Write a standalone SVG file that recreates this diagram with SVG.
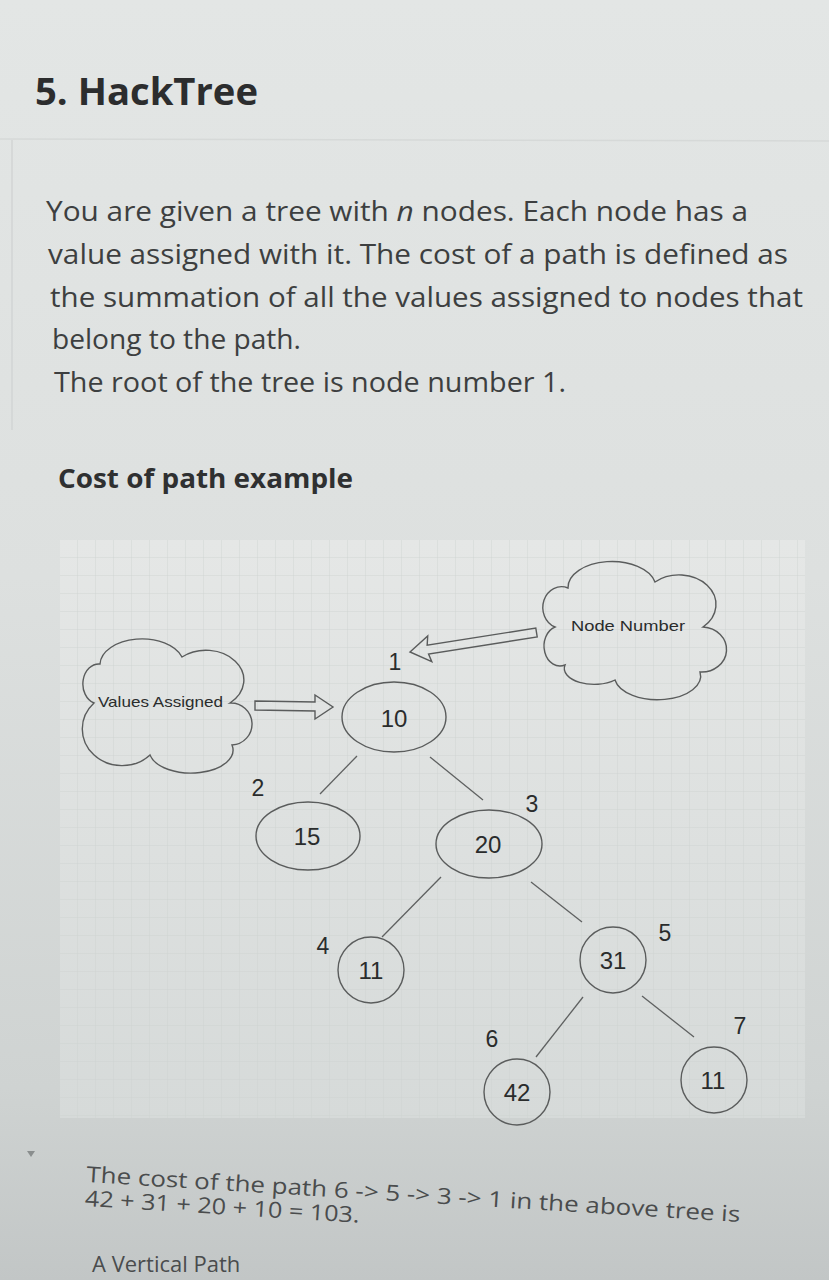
<svg xmlns="http://www.w3.org/2000/svg" width="829" height="1280" viewBox="0 0 829 1280">
<defs>
  <linearGradient id="bg" x1="0" y1="0" x2="0" y2="1">
    <stop offset="0" stop-color="#e3e6e5"/>
    <stop offset="0.45" stop-color="#dde0df"/>
    <stop offset="0.85" stop-color="#cfd3d2"/>
    <stop offset="1" stop-color="#c2c6c6"/>
  </linearGradient>
  <linearGradient id="gridbg" x1="0" y1="0" x2="0" y2="1">
    <stop offset="0" stop-color="#e5e7e6"/>
    <stop offset="1" stop-color="#d6dad9"/>
  </linearGradient>
  <pattern id="grid" width="18" height="18" patternUnits="userSpaceOnUse" x="60" y="540">
    <path d="M18 0 V18 M0 18 H18" fill="none" stroke="#ccd0cf" stroke-width="0.8"/>
  </pattern>
</defs>
<style>
  .title{font-family:"Open Sans","Noto Sans",sans-serif;font-weight:bold;font-size:38px;fill:#2c2d2e}
  .body{font-family:"Open Sans","Noto Sans",sans-serif;font-size:27px;fill:#3d3f40}
  .sub{font-family:"Open Sans","Noto Sans",sans-serif;font-weight:bold;font-size:27px;fill:#2f3031}
  .foot{font-family:"Open Sans","Noto Sans",sans-serif;font-size:22px;fill:#4a4c4d}
  .shape{fill:none;stroke:#5a5c5c;stroke-width:1.4}
  .edge{stroke:#5f6161;stroke-width:1.3;fill:none}
  .val{font-family:"Liberation Sans",Arial,sans-serif;font-size:24px;fill:#2a2c2c;text-anchor:middle}
  .num{font-family:"Liberation Sans",Arial,sans-serif;font-size:23px;fill:#2a2c2c;text-anchor:middle}
  .cl{font-family:"Liberation Sans",Arial,sans-serif;font-size:15px;fill:#2a2c2c}
</style>

<rect x="0" y="0" width="829" height="1280" fill="url(#bg)"/>
<line x1="12" y1="140" x2="12" y2="430" stroke="#d2d5d4" stroke-width="1.5"/>
<line x1="0" y1="139" x2="829" y2="141" stroke="#d6d9d8" stroke-width="1.5"/>

<text class="title" x="35" y="105" textLength="223" lengthAdjust="spacingAndGlyphs">5. HackTree</text>

<g id="description">
  <text class="body" x="46" y="221" textLength="702" lengthAdjust="spacingAndGlyphs">You are given a tree with <tspan font-style="italic">n</tspan> nodes. Each node has a</text>
  <text class="body" x="48" y="264" textLength="740" lengthAdjust="spacingAndGlyphs">value assigned with it. The cost of a path is defined as</text>
  <text class="body" x="50" y="307" textLength="753" lengthAdjust="spacingAndGlyphs">the summation of all the values assigned to nodes that</text>
  <text class="body" x="52" y="349" textLength="249" lengthAdjust="spacingAndGlyphs">belong to the path.</text>
  <text class="body" x="54" y="392" textLength="512" lengthAdjust="spacingAndGlyphs">The root of the tree is node number 1.</text>
</g>

<text class="sub" x="58" y="488" textLength="295" lengthAdjust="spacingAndGlyphs">Cost of path example</text>

<!-- grid area -->
<rect x="60" y="540" width="745" height="578" fill="url(#gridbg)"/>
<rect x="60" y="540" width="745" height="578" fill="url(#grid)"/>

<g id="connectors">
  <line class="edge" x1="357" y1="756" x2="320" y2="794"/>
  <line class="edge" x1="430" y1="757" x2="483" y2="800"/>
  <line class="edge" x1="441" y1="877" x2="382" y2="937"/>
  <line class="edge" x1="531" y1="882" x2="582" y2="922"/>
  <line class="edge" x1="583" y1="997" x2="536" y2="1057"/>
  <line class="edge" x1="642" y1="996" x2="694" y2="1037"/>
  <!-- hollow arrow: values assigned -> node 1 -->
  <path class="shape" d="M255,701 L315,702 L315,695 L333,707 L315,719 L315,711 L255,710 Z"/>
  <!-- hollow arrow: node number -> label 1 -->
  <path class="shape" transform="translate(410,652) rotate(-9)" d="M0,0 L20,-13 L18,-4 L128,-4 L128,5 L18,5 L20,13 Z"/>
</g>

<g id="cloud-values">
  <path class="shape" d="M94,703 A16,20 0 0 1 100,664 A42,26 0 0 1 182,657 A28,22 0 0 1 230,703 A20,20 0 0 1 232,745 A40,22 0 0 1 150,755 A26,24 0 0 1 94,703 Z"/>
  <text class="cl" x="98" y="707" textLength="125" lengthAdjust="spacingAndGlyphs">Values Assigned</text>
</g>

<g id="cloud-node-number">
  <path class="shape" d="M555,627 A18,20 0 0 1 568,588 A44,26 0 0 1 655,582 A30,24 0 0 1 703,627 A20,18 0 0 1 700,672 A40,22 0 0 1 615,680 A30,16 0 0 1 565,665 A16,20 0 0 1 555,627 Z"/>
  <text class="cl" x="571" y="631" textLength="114" lengthAdjust="spacingAndGlyphs">Node Number</text>
</g>

<g id="node1">
  <ellipse class="shape" cx="394" cy="717" rx="52" ry="35"/>
  <text class="val" x="394" y="727">10</text>
  <text class="num" x="395" y="670">1</text>
</g>
<g id="node2">
  <ellipse class="shape" cx="308" cy="836" rx="52" ry="34"/>
  <text class="val" x="307" y="845">15</text>
  <text class="num" x="258" y="796">2</text>
</g>
<g id="node3">
  <ellipse class="shape" cx="489" cy="844" rx="53" ry="34"/>
  <text class="val" x="488" y="853">20</text>
  <text class="num" x="532" y="812">3</text>
</g>
<g id="node4">
  <circle class="shape" cx="371" cy="970" r="33"/>
  <text class="val" x="371" y="979">11</text>
  <text class="num" x="323" y="954">4</text>
</g>
<g id="node5">
  <circle class="shape" cx="613" cy="960" r="33"/>
  <text class="val" x="613" y="969">31</text>
  <text class="num" x="665" y="941">5</text>
</g>
<g id="node6">
  <circle class="shape" cx="517" cy="1092" r="33"/>
  <text class="val" x="517" y="1101">42</text>
  <text class="num" x="492" y="1047">6</text>
</g>
<g id="node7">
  <circle class="shape" cx="714" cy="1080" r="33"/>
  <text class="val" x="713" y="1089">11</text>
  <text class="num" x="740" y="1034">7</text>
</g>

<polygon points="27,1151 35,1151 31,1157" fill="#8a8e8e"/>

<g transform="rotate(3.5 86 1182)">
  <text class="foot" x="86" y="1182" textLength="655" lengthAdjust="spacingAndGlyphs">The cost of the path 6 -&gt; 5 -&gt; 3 -&gt; 1 in the above tree is</text>
  <text class="foot" x="86" y="1206" textLength="275" lengthAdjust="spacingAndGlyphs">42 + 31 + 20 + 10 = 103.</text>
</g>
<text class="foot" x="92" y="1272" fill="#5a5d5e">A Vertical Path</text>
</svg>
